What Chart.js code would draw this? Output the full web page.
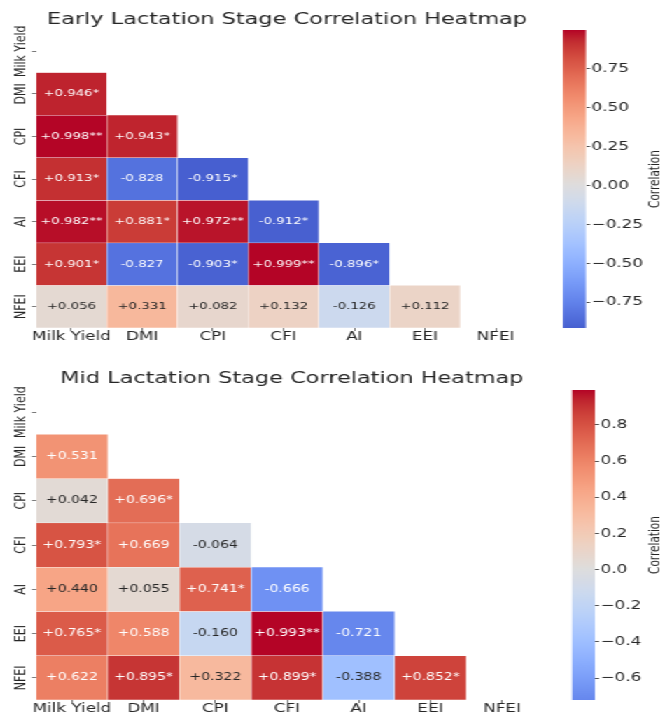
<!DOCTYPE html>
<html>
<head>
<meta charset="utf-8">
<script src="https://cdn.jsdelivr.net/npm/chart.js@4.4.1/dist/chart.umd.min.js"></script>
<style>
  html, body { margin: 0; padding: 0; background: #ffffff; }
  body { width: 662px; height: 715px; overflow: hidden; position: relative; }
  /* the figure is laid out narrow and widened horizontally */
  #stage { position: absolute; left: 0; top: 0; width: 473px; height: 715px;
           transform: scaleX(1.4); transform-origin: 0 0; }
  #stage canvas { position: absolute; }
</style>
</head>
<body>
<div id="stage">
  <canvas id="earlyMap" width="410" height="357" style="left:0;top:0;width:410px;height:357px"></canvas>
  <canvas id="earlyBar" width="78" height="357" style="left:395px;top:0;width:78px;height:357px"></canvas>
  <canvas id="midMap" width="417" height="358" style="left:0;top:357px;width:417px;height:358px"></canvas>
  <canvas id="midBar" width="78" height="358" style="left:395px;top:357px;width:78px;height:358px"></canvas>
</div>
<script>
// Variables on both axes
const variables = ['Milk Yield', 'DMI', 'CPI', 'CFI', 'AI', 'EEI', 'NFEI'];

// Lower-triangle correlations, one array per row from DMI down to NFEI
const earlyDMI  = [0.946];
const earlyCPI  = [0.998, 0.943];
const earlyCFI  = [0.913, -0.828, -0.915];
const earlyAI   = [0.982, 0.881, 0.972, -0.912];
const earlyEEI  = [0.901, -0.827, -0.903, 0.999, -0.896];
const earlyNFEI = [0.056, 0.331, 0.082, 0.132, -0.126, 0.112];

const earlyStars = [
  ['*'],
  ['**', '*'],
  ['*', '', '*'],
  ['**', '*', '**', '*'],
  ['*', '', '*', '**', '*'],
  ['', '', '', '', '', '']
];

const midDMI  = [0.531];
const midCPI  = [0.042, 0.696];
const midCFI  = [0.793, 0.669, -0.064];
const midAI   = [0.440, 0.055, 0.741, -0.666];
const midEEI  = [0.765, 0.588, -0.160, 0.993, -0.721];
const midNFEI = [0.622, 0.895, 0.322, 0.899, -0.388, 0.852];

const midStars = [
  [''],
  ['', '*'],
  ['*', '', ''],
  ['', '', '*', ''],
  ['*', '', '', '**', ''],
  ['', '*', '', '*', '', '*']
];

// Colour bar tick values
const earlyBarTicks = [-0.75, -0.5, -0.25, 0, 0.25, 0.5, 0.75];
const midBarTicks = [-0.6, -0.4, -0.2, 0, 0.2, 0.4, 0.6, 0.8];

// Diverging blue-grey-red colormap (coolwarm), 33 evenly spaced stops
const coolwarmStops = [
  [59,76,192],[68,90,204],[77,104,215],[87,117,225],[98,130,234],[108,142,241],
  [119,154,247],[130,165,251],[141,176,254],[152,185,255],[163,194,255],[174,201,253],
  [184,208,249],[194,213,244],[204,217,238],[213,219,230],[221,221,221],[229,216,209],
  [236,211,197],[241,204,184],[245,196,173],[247,187,160],[247,177,148],[247,166,135],
  [244,154,123],[241,141,111],[236,127,99],[229,112,88],[222,96,77],[213,80,66],
  [203,62,56],[192,40,47],[180,4,38]
];

const FONT = '"DejaVu Sans", "Liberation Sans", sans-serif';
const TEXT = '#262626';

function coolwarm(t) {
  t = Math.max(0, Math.min(1, t));
  const f = t * (coolwarmStops.length - 1);
  const i = Math.min(Math.floor(f), coolwarmStops.length - 2);
  const k = f - i;
  const a = coolwarmStops[i], b = coolwarmStops[i + 1];
  const c = a.map((v, j) => Math.round(v + (b[j] - v) * k));
  return `rgb(${c[0]},${c[1]},${c[2]})`;
}

// Colour scale centred on zero: the larger magnitude reaches the end of the map
function centredNorm(vmin, vmax) {
  const span = Math.max(Math.abs(vmin), Math.abs(vmax));
  return v => 0.5 + v / (2 * span);
}

function fmtCell(v) {
  return (v >= 0 ? '+' : '') + v.toFixed(3);
}

// Writes each cell's correlation (with significance stars) at the centre of its bar
const cellText = {
  id: 'cellText',
  afterDatasetsDraw(chart, args, opts) {
    const ctx = chart.ctx;
    ctx.save();
    ctx.font = `${opts.size}px ${FONT}`;
    ctx.textAlign = 'center';
    ctx.textBaseline = 'middle';
    chart.data.datasets.forEach((ds, i) => {
      chart.getDatasetMeta(i).data.forEach((el, j) => {
        const d = ds.data[j];
        ctx.fillStyle = Math.abs(d.v) > 0.5 ? '#ffffff' : TEXT;
        ctx.fillText(fmtCell(d.v) + d.s, el.x, (el.y + el.base) / 2);
      });
    });
    ctx.restore();
  }
};

// Row names, written vertically beside the y axis at each row centre
const rowNames = {
  id: 'rowNames',
  afterDraw(chart, args, opts) {
    const ctx = chart.ctx;
    const ys = chart.scales.y;
    ctx.save();
    ctx.font = `${opts.size}px ${FONT}`;
    ctx.fillStyle = TEXT;
    ctx.textAlign = 'center';
    ctx.textBaseline = 'alphabetic';
    variables.forEach((name, i) => {
      ctx.save();
      ctx.translate(opts.x, ys.getPixelForValue(i + 0.5));
      ctx.rotate(-Math.PI / 2);
      ctx.fillText(name, 0, 0);
      ctx.restore();
    });
    ctx.restore();
  }
};

// Vertical caption of the colour bar
const barCaption = {
  id: 'barCaption',
  afterDraw(chart, args, opts) {
    const ctx = chart.ctx;
    const a = chart.chartArea;
    ctx.save();
    ctx.font = `10.5px ${FONT}`;
    ctx.fillStyle = TEXT;
    ctx.textAlign = 'center';
    ctx.textBaseline = 'middle';
    ctx.translate(opts.x, (a.top + a.bottom) / 2);
    ctx.rotate(-Math.PI / 2);
    ctx.fillText(opts.text, 0, 0);
    ctx.restore();
  }
};

function heatmap(id, cfg) {
  const rows = cfg.rows;
  const all = rows.flat();
  const vmin = Math.min(...all), vmax = Math.max(...all);
  const norm = centredNorm(vmin, vmax);
  const datasets = rows.map((rowVals, k) => {
    const r = k + 1;
    return {
      label: variables[r],
      data: rowVals.map((v, c) => ({ x: variables[c], y: [r, r + 1], v: v, s: cfg.stars[k][c] })),
      backgroundColor: ctx => coolwarm(norm(ctx.raw.v)),
      borderColor: '#ffffff',
      borderWidth: 0.5,
      borderSkipped: false,
      grouped: false,
      barPercentage: 1,
      categoryPercentage: 1
    };
  });

  new Chart(document.getElementById(id), {
    type: 'bar',
    data: { labels: variables, datasets: datasets },
    options: {
      responsive: false,
      animation: false,
      events: [],
      layout: { padding: 0 },
      scales: {
        x: {
          type: 'category',
          offset: true,
          afterFit: s => { s.height = cfg.axisH; },
          grid: { drawOnChartArea: false, drawTicks: true, tickLength: 3, offset: false, color: '#7a7a7a' },
          border: { display: false },
          ticks: { font: { family: FONT, size: 12 }, color: TEXT, padding: -1, maxRotation: 0, autoSkip: false }
        },
        y: {
          type: 'linear',
          min: 0,
          max: variables.length,
          reverse: true,
          afterBuildTicks: s => { s.ticks = variables.map((_, i) => ({ value: i + 0.5 })); },
          afterFit: s => { s.width = 25.7; },
          ticks: { display: false },
          grid: { drawOnChartArea: false, drawTicks: true, tickLength: 3, color: '#7a7a7a' },
          border: { display: false }
        },
        // empty margin on the right, leaving room for the colour bar
        gap: {
          type: 'linear',
          position: 'right',
          afterFit: s => { s.width = cfg.rightGap; },
          ticks: { display: false },
          grid: { display: false },
          border: { display: false }
        }
      },
      plugins: {
        legend: { display: false },
        tooltip: { enabled: false },
        title: {
          display: true,
          text: cfg.title,
          color: TEXT,
          font: { family: FONT, size: 16, weight: 'normal' },
          padding: { top: cfg.titleTop, bottom: cfg.titleBottom }
        },
        cellText: { size: cfg.annotSize },
        rowNames: { x: 18, size: 11 }
      }
    },
    plugins: [cellText, rowNames]
  });
  return { vmin, vmax, norm };
}

function colorbar(id, cfg) {
  const { vmin, vmax, norm } = cfg;
  new Chart(document.getElementById(id), {
    type: 'bar',
    data: {
      labels: ['Correlation'],
      datasets: [{
        data: [[vmin, vmax]],
        backgroundColor: ctx => {
          const chart = ctx.chart;
          const ys = chart.scales.y;
          if (!chart.chartArea || !ys) return null;
          const g = chart.ctx.createLinearGradient(0, ys.getPixelForValue(vmin), 0, ys.getPixelForValue(vmax));
          const n = 64;
          for (let i = 0; i <= n; i++) {
            g.addColorStop(i / n, coolwarm(norm(vmin + (vmax - vmin) * i / n)));
          }
          return g;
        },
        borderWidth: 0,
        barPercentage: 1,
        categoryPercentage: 1
      }]
    },
    options: {
      responsive: false,
      animation: false,
      events: [],
      layout: { padding: { left: cfg.padLeft, right: 0, top: cfg.padTop, bottom: cfg.padBottom } },
      scales: {
        x: { display: false },
        y: {
          position: 'right',
          min: vmin,
          max: vmax,
          afterBuildTicks: s => { s.ticks = cfg.ticks.map(v => ({ value: v })); },
          afterFit: s => { s.width = cfg.axisW; },
          ticks: {
            font: { family: FONT, size: 12 },
            color: TEXT,
            padding: 1,
            callback: v => Number(v).toFixed(cfg.decimals).replace('-', '\u2212')
          },
          grid: { drawOnChartArea: false, drawTicks: true, tickLength: 3, color: '#555555' },
          border: { display: false }
        }
      },
      plugins: {
        legend: { display: false },
        tooltip: { enabled: false },
        barCaption: { x: 72.9, text: 'Correlation' }
      }
    },
    plugins: [barCaption]
  });
}

const earlyRange = heatmap('earlyMap', {
  title: 'Early Lactation Stage Correlation Heatmap',
  rows: [earlyDMI, earlyCPI, earlyCFI, earlyAI, earlyEEI, earlyNFEI],
  stars: earlyStars,
  rightGap: 30.7,
  axisH: 29,
  titleTop: 9.9,
  titleBottom: 0.9,
  annotSize: 9.5
});
colorbar('earlyBar', {
  vmin: earlyRange.vmin, vmax: earlyRange.vmax, norm: earlyRange.norm, ticks: earlyBarTicks, decimals: 2,
  padLeft: 7.1, axisW: 54.4, padTop: 30, padBottom: 29
});

const midRange = heatmap('midMap', {
  title: 'Mid Lactation Stage Correlation Heatmap',
  rows: [midDMI, midCPI, midCFI, midAI, midEEI, midNFEI],
  stars: midStars,
  rightGap: 32.7,
  axisH: 15,
  titleTop: 12.2,
  titleBottom: 1.6,
  annotSize: 10
});
colorbar('midBar', {
  vmin: midRange.vmin, vmax: midRange.vmax, norm: midRange.norm, ticks: midBarTicks, decimals: 1,
  padLeft: 13.6, axisW: 48, padTop: 33, padBottom: 15
});
</script>
</body>
</html>
